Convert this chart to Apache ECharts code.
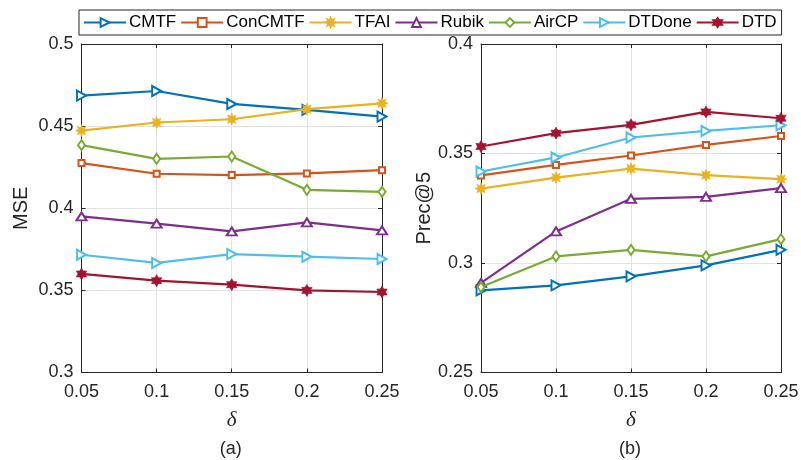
<!DOCTYPE html>
<html>
<head>
<meta charset="utf-8">
<script src="https://cdn.jsdelivr.net/npm/echarts@6/dist/echarts.min.js"></script>
<style>html,body{margin:0;padding:0;background:#fff}#c{width:801px;height:460px}</style>
</head>
<body>
<div id="c"></div>
<script>
// ---- data ----
var methods = ['CMTF', 'ConCMTF', 'TFAI', 'Rubik', 'AirCP', 'DTDone', 'DTD'];
var deltas = [0.05, 0.1, 0.15, 0.2, 0.25];

var mseCMTF    = [0.4686, 0.4714, 0.4635, 0.4599, 0.4558];
var mseConCMTF = [0.4275, 0.4210, 0.4202, 0.4212, 0.4232];
var mseTFAI    = [0.4473, 0.4522, 0.4542, 0.4603, 0.4639];
var mseRubik   = [0.3950, 0.3906, 0.3859, 0.3914, 0.3865];
var mseAirCP   = [0.4384, 0.4301, 0.4315, 0.4112, 0.4100];
var mseDTDone  = [0.3717, 0.3667, 0.3721, 0.3705, 0.3691];
var mseDTD     = [0.3600, 0.3559, 0.3535, 0.3500, 0.3490];

var precCMTF    = [0.2875, 0.2898, 0.2939, 0.2989, 0.3060];
var precConCMTF = [0.3400, 0.3448, 0.3491, 0.3539, 0.3580];
var precTFAI    = [0.3340, 0.3390, 0.3431, 0.3401, 0.3383];
var precRubik   = [0.2909, 0.3144, 0.3293, 0.3302, 0.3342];
var precAirCP   = [0.2890, 0.3030, 0.3060, 0.3030, 0.3109];
var precDTDone  = [0.3418, 0.3482, 0.3573, 0.3603, 0.3629];
var precDTD     = [0.3532, 0.3593, 0.3631, 0.3690, 0.3661];

var yTicksMSE = [0.3, 0.35, 0.4, 0.45, 0.5];
var yTicksPrec = [0.25, 0.3, 0.35, 0.4];
var xTitle = 'δ';
var yTitles = ['MSE', 'Prec@5'];
var panelTitles = ['(a)', '(b)'];

var mseData = [mseCMTF, mseConCMTF, mseTFAI, mseRubik, mseAirCP, mseDTDone, mseDTD];
var precData = [precCMTF, precConCMTF, precTFAI, precRubik, precAirCP, precDTDone, precDTD];

// ---- styles ----
var colors = ['#0072BD', '#D95319', '#EDB120', '#7E2F8E', '#77AC30', '#4DBEEE', '#A2142F'];
function hexagram() {
  var p = [];
  for (var i = 0; i < 12; i++) {
    var a = (-90 + i * 30) * Math.PI / 180;
    var r = (i % 2 === 0) ? 10 : 5.8;
    p.push((10 + r * Math.cos(a)).toFixed(3) + ',' + (10 + r * Math.sin(a)).toFixed(3));
  }
  return 'path://M' + p.join('L') + 'Z';
}
function asterisk() {
  var p = [];
  for (var i = 0; i < 16; i++) {
    var a = (-90 + i * 22.5) * Math.PI / 180;
    var r = (i % 2 === 0) ? 10 : 5.2;
    p.push((10 + r * Math.cos(a)).toFixed(3) + ',' + (10 + r * Math.sin(a)).toFixed(3));
  }
  return 'path://M' + p.join('L') + 'Z';
}
var rightTri = 'path://M0,0L10,5L0,10Z';
var markers = [
  { symbol: rightTri, size: [9, 10], open: true },
  { symbol: 'rect', size: 6, open: true },
  { symbol: asterisk(), size: 12, open: false },
  { symbol: 'triangle', size: [10, 8], open: true },
  { symbol: 'diamond', size: [7, 10], open: true },
  { symbol: rightTri, size: [9, 10], open: true },
  { symbol: hexagram(), size: 12, open: false }
];

var FONT = "'Liberation Sans', Arial, Helvetica, sans-serif";
var axisColor = '#262626';
var gridColor = '#e3e3e3';

var grids = [
  { left: 81.5, top: 44, width: 300.5, height: 328.5, outerBoundsMode: 'none', containLabel: false },
  { left: 481, top: 44, width: 300, height: 328.5, outerBoundsMode: 'none', containLabel: false }
];

function fmt(v) { return String(parseFloat(v.toFixed(3))); }

var xAxes = [], yAxes = [];
[0, 1].forEach(function (g) {
  xAxes.push({
    type: 'value', gridIndex: g, min: deltas[0], max: deltas[deltas.length - 1], interval: 0.05,
    position: 'bottom',
    name: xTitle, nameLocation: 'middle', nameGap: 37,
    nameTextStyle: { fontFamily: "'Liberation Serif', 'Times New Roman', serif", fontStyle: 'italic', fontSize: 21, color: axisColor },
    axisLine: { show: true, lineStyle: { color: axisColor, width: 1 } },
    axisTick: { show: true, inside: true, length: 4, lineStyle: { color: axisColor } },
    axisLabel: { fontFamily: FONT, fontSize: 18, color: axisColor, margin: 11, formatter: fmt, showMinLabel: true, showMaxLabel: true },
    splitLine: { show: true, lineStyle: { color: gridColor, width: 1 } }
  });
  xAxes.push({
    type: 'value', gridIndex: g, min: deltas[0], max: deltas[deltas.length - 1], interval: 0.05,
    position: 'top',
    axisLine: { show: true, onZero: false, lineStyle: { color: axisColor, width: 1 } },
    axisTick: { show: true, inside: true, length: 4, lineStyle: { color: axisColor } },
    axisLabel: { show: false }, splitLine: { show: false }
  });
  var ticks = g === 0 ? yTicksMSE : yTicksPrec;
  yAxes.push({
    type: 'value', gridIndex: g, min: ticks[0], max: ticks[ticks.length - 1], interval: 0.05,
    position: 'left',
    name: yTitles[g], nameLocation: 'middle', nameGap: g === 0 ? 50 : 45,
    nameTextStyle: { fontFamily: FONT, fontSize: 20, color: axisColor },
    axisLine: { show: true, onZero: false, lineStyle: { color: axisColor, width: 1 } },
    axisTick: { show: true, inside: true, length: 4, lineStyle: { color: axisColor } },
    axisLabel: { fontFamily: FONT, fontSize: 18, color: axisColor, margin: 8, formatter: fmt, showMinLabel: true, showMaxLabel: true },
    splitLine: { show: true, lineStyle: { color: gridColor, width: 1 } }
  });
  yAxes.push({
    type: 'value', gridIndex: g, min: ticks[0], max: ticks[ticks.length - 1], interval: 0.05,
    position: 'right',
    axisLine: { show: true, onZero: false, lineStyle: { color: axisColor, width: 1 } },
    axisTick: { show: true, inside: true, length: 4, lineStyle: { color: axisColor } },
    axisLabel: { show: false }, splitLine: { show: false }
  });
});

var series = [];
[mseData, precData].forEach(function (dataset, g) {
  dataset.forEach(function (vals, i) {
    var m = markers[i];
    series.push({
      name: methods[i], type: 'line',
      xAxisIndex: g * 2, yAxisIndex: g * 2,
      data: deltas.map(function (d, j) { return [d, vals[j]]; }),
      symbol: m.symbol, symbolSize: m.size, symbolKeepAspect: true, showSymbol: true,
      lineStyle: { color: colors[i], width: 2.2 },
      itemStyle: m.open
        ? { color: '#ffffff', borderColor: colors[i], borderWidth: 2 }
        : { color: colors[i], borderColor: colors[i], borderWidth: 0.6 },
      emphasis: { disabled: true },
      z: 3 + i
    });
  });
});

var chart = echarts.init(document.getElementById('c'), null, { renderer: 'canvas' });
chart.setOption({
  animation: false,
  backgroundColor: '#ffffff',
  textStyle: { fontFamily: FONT },
  grid: grids,
  xAxis: xAxes,
  yAxis: yAxes,
  legend: {
    data: methods,
    left: 79, top: 10,
    orient: 'horizontal',
    padding: [4, 5, 4, 4],
    itemGap: 4,
    itemWidth: 42, itemHeight: 11,
    borderColor: axisColor, borderWidth: 1, borderRadius: 0,
    backgroundColor: '#ffffff',
    textStyle: { fontFamily: FONT, fontSize: 17, color: '#000000', padding: [0, 0, 0, -2] },
    selectedMode: false
  },
  tooltip: { show: false },
  graphic: [
    { type: 'text', left: 231.7 - 12, top: 440, style: { text: panelTitles[0], font: '18px ' + FONT, fill: axisColor } },
    { type: 'text', left: 631 - 12, top: 440, style: { text: panelTitles[1], font: '18px ' + FONT, fill: axisColor } }
  ],
  series: series
});
</script>
</body>
</html>
